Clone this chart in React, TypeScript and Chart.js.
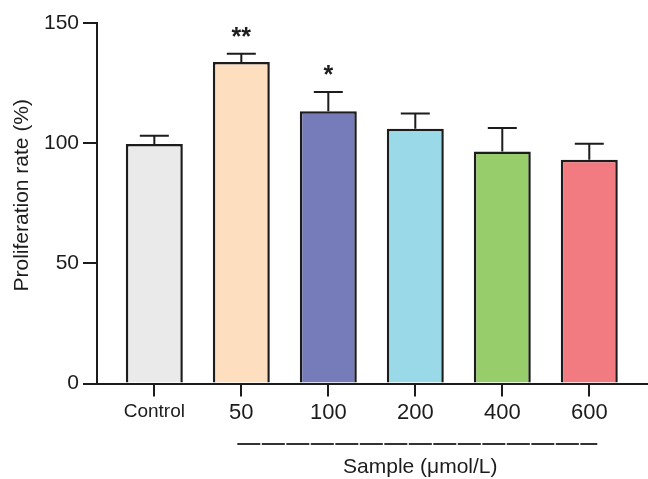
import React, { useEffect, useRef } from "react";
import { Chart, registerables } from "chart.js";

Chart.register(...registerables);

// ---- data ----
const categories = ["Control", "50", "100", "200", "400", "600"];
const means = [99.7, 133.8, 113.3, 106.0, 96.5, 93.1];
const errors = [3.4, 3.4, 8.0, 6.3, 9.8, 6.7];
const significance = ["", "**", "*", "", "", ""];
const yTicks = [0, 50, 100, 150];
const yTitle = "Proliferation rate (%)";
const xTitle = "Sample (μmol/L)";

// ---- styles ----
const barColors = ["#EAEAEA", "#FDDFC0", "#767BBA", "#9AD9E7", "#98CD6C", "#F17B80"];
const INK = "#1c1c1c";
const FAMILY = "'Liberation Sans', Arial, Helvetica, sans-serif";

const annotPlugin = {
  id: "annot",
  afterDatasetsDraw(chart: any) {
    const ctx = chart.ctx as CanvasRenderingContext2D;
    const xs = chart.scales.x;
    const ys = chart.scales.y;
    ctx.save();
    ctx.strokeStyle = INK;
    ctx.fillStyle = INK;
    ctx.lineWidth = 2;
    means.forEach((m, i) => {
      const x = xs.getPixelForValue(i);
      const yTop = ys.getPixelForValue(m);
      const yCap = ys.getPixelForValue(m + errors[i]);
      ctx.beginPath();
      ctx.moveTo(x, yTop);
      ctx.lineTo(x, yCap);
      ctx.moveTo(x - 14.5, yCap);
      ctx.lineTo(x + 14.5, yCap);
      ctx.stroke();
      if (significance[i]) {
        ctx.font = `bold 25px ${FAMILY}`;
        ctx.textAlign = "center";
        ctx.textBaseline = "alphabetic";
        ctx.fillText(significance[i], x, yCap - 9);
      }
    });
    ctx.restore();
  },
  afterDraw(chart: any) {
    const ctx = chart.ctx as CanvasRenderingContext2D;
    const xs = chart.scales.x;
    const area = chart.chartArea;
    ctx.save();
    ctx.fillStyle = INK;
    // y title
    ctx.translate(27.7, (area.top + area.bottom) / 2 - 8);
    ctx.rotate(-Math.PI / 2);
    ctx.font = `21px ${FAMILY}`;
    ctx.textAlign = "center";
    ctx.textBaseline = "alphabetic";
    ctx.fillText(yTitle, 0, 0);
    ctx.restore();

    // sample group line + title
    ctx.save();
    const x1 = xs.getPixelForValue(1) - 4;
    const x2 = xs.getPixelForValue(5) + 8;
    ctx.strokeStyle = "#333";
    ctx.lineWidth = 2;
    ctx.setLineDash([23, 1.5]);
    ctx.beginPath();
    ctx.moveTo(x1, 444);
    ctx.lineTo(x2, 444);
    ctx.stroke();
    ctx.setLineDash([]);
    ctx.fillStyle = INK;
    ctx.font = `21px ${FAMILY}`;
    ctx.textAlign = "center";
    ctx.textBaseline = "alphabetic";
    ctx.fillText(xTitle, (x1 + x2) / 2 + 3, 473);
    ctx.restore();
  },
};

export default function App() {
  const ref = useRef<HTMLCanvasElement | null>(null);

  useEffect(() => {
    document.body.style.margin = "0";
    const canvas = ref.current;
    if (!canvas) return;
    const chart = new Chart(canvas, {
      type: "bar",
      data: {
        datasets: [
          {
            data: means.map((m, i) => ({ x: i, y: m })),
            backgroundColor: barColors,
            borderColor: INK,
            borderWidth: 2.5,
            barPercentage: 0.655,
            categoryPercentage: 1,
          } as any,
        ],
      },
      options: {
        responsive: false,
        animation: false,
        devicePixelRatio: 1,
        layout: { padding: { top: 23, right: 0, bottom: 0, left: 0 } },
        plugins: { legend: { display: false }, tooltip: { enabled: false } },
        scales: {
          x: {
            type: "linear",
            offset: false,
            min: -0.659,
            max: 5.675,
            afterFit: (s: any) => {
              s.height = 95.5;
            },
            afterBuildTicks: (s: any) => {
              s.ticks = categories.map((_, i) => ({ value: i }));
            },
            grid: { offset: false, drawOnChartArea: false, drawTicks: true, tickLength: 13, color: INK, lineWidth: 2 },
            border: { display: true, color: INK, width: 2 },
            ticks: {
              padding: 3.5,
              color: INK,
              autoSkip: false,
              maxRotation: 0,
              callback: (v: any) => categories[v] ?? "",
              font: (c: any) => ({ family: FAMILY, size: c.index === 0 ? 19 : 22 }),
            },
          } as any,
          y: {
            min: 0,
            max: 150,
            afterFit: (s: any) => {
              s.width = 97;
            },
            afterBuildTicks: (s: any) => {
              s.ticks = yTicks.map((v) => ({ value: v }));
            },
            grid: { drawOnChartArea: false, drawTicks: true, tickLength: 14, color: INK, lineWidth: 2 },
            border: { display: true, color: INK, width: 2 },
            ticks: { padding: 4, color: INK, font: { family: FAMILY, size: 21 } },
          } as any,
        },
      },
      plugins: [annotPlugin],
    });
    return () => chart.destroy();
  }, []);

  return (
    <div style={{ width: 648, height: 479 }}>
      <canvas ref={ref} width={648} height={479} style={{ display: "block", width: 648, height: 479 }} />
    </div>
  );
}
